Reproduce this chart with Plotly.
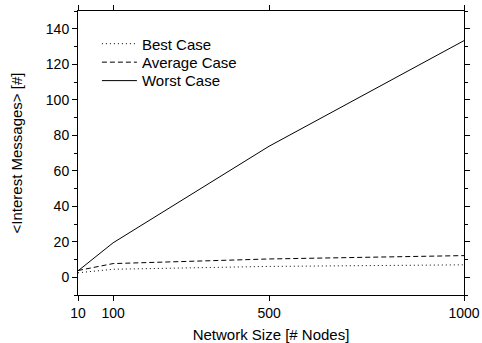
import plotly.graph_objects as go

nodes = [10, 100, 500, 1000]
best_case = [2.5, 4.5, 6.1, 7.0]
average_case = [3.8, 7.7, 10.3, 12.2]
worst_case = [3.6, 19.4, 73.8, 133.3]
x_ticks = [10, 100, 500, 1000]
y_ticks = [0, 20, 40, 60, 80, 100, 120, 140]

fig = go.Figure()
fig.add_trace(go.Scatter(x=nodes, y=best_case, mode="lines", name="Best Case",
                         legend="legend",
                         line=dict(color="black", width=1, dash="1px,3px")))
fig.add_trace(go.Scatter(x=nodes, y=average_case, mode="lines", name="Average Case",
                         legend="legend2",
                         line=dict(color="black", width=1, dash="5px,3px")))
fig.add_trace(go.Scatter(x=nodes, y=worst_case, mode="lines", name="Worst Case",
                         legend="legend3",
                         line=dict(color="black", width=1)))

fam = "Liberation Sans, Arial, sans-serif"
leg = dict(x=0.049, xanchor="left", yanchor="middle", bgcolor="rgba(0,0,0,0)",
           font=dict(size=15), itemwidth=35)
fig.update_layout(
    width=482, height=343,
    showlegend=True,
    margin=dict(l=78, r=18, t=11, b=48, autoexpand=False),
    paper_bgcolor="white", plot_bgcolor="white",
    font=dict(family=fam, size=14, color="black"),
    legend=dict(leg, y=0.884),
    legend2=dict(leg, y=0.819),
    legend3=dict(leg, y=0.754),
    xaxis=dict(range=[10, 1000], tickvals=x_ticks, showgrid=False, zeroline=False,
               automargin=False,
               showline=True, linecolor="black", linewidth=1, mirror="ticks",
               ticks="outside", ticklen=5, tickcolor="black",
               tickfont=dict(size=14),
               title=dict(text="Network Size [# Nodes]", standoff=10,
                          font=dict(size=15))),
    yaxis=dict(range=[-10, 150], tickvals=y_ticks, showgrid=False, zeroline=False,
               automargin=False,
               showline=True, linecolor="black", linewidth=1, mirror="ticks",
               ticks="outside", ticklen=5, tickcolor="black",
               tickfont=dict(size=14),
               minor=dict(tickvals=[-10, 10, 30, 50, 70, 90, 110, 130, 150],
                          ticks="outside", ticklen=3, tickcolor="black"),
               title=dict(text="&lt;Interest Messages&gt; [#]", standoff=19,
                          font=dict(size=15))),
)
fig.write_html("out.html", config={"displayModeBar": False},
               post_script="document.body.style.margin='0';")
